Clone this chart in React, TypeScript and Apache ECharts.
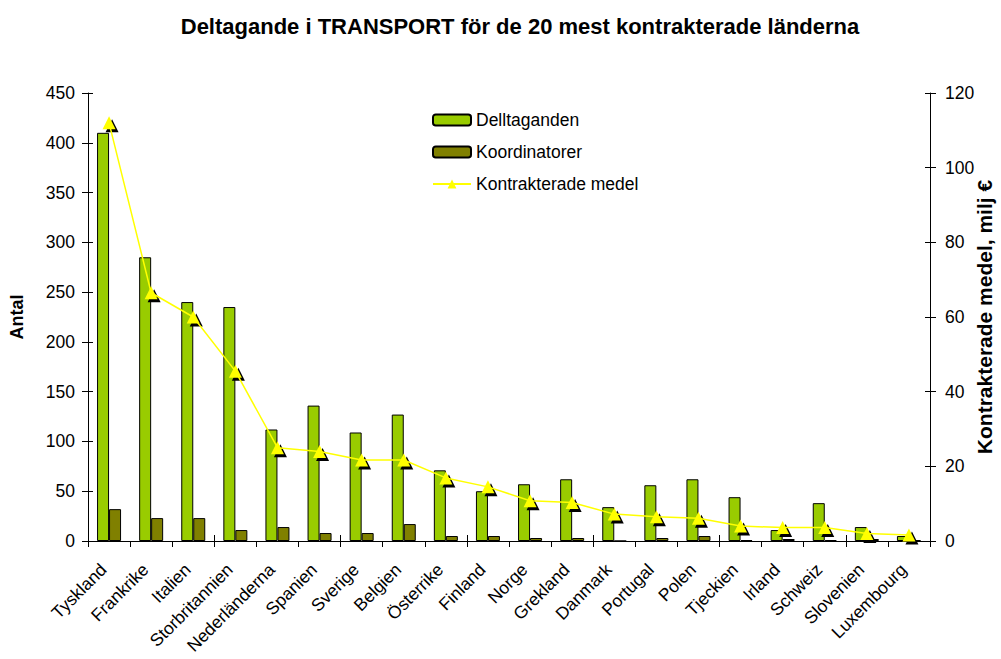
import React, { useEffect, useRef } from "react";
import * as echarts from "echarts";

const countries = ["Tyskland", "Frankrike", "Italien", "Storbritannien", "Nederländerna", "Spanien", "Sverige", "Belgien", "Österrike", "Finland", "Norge", "Grekland", "Danmark", "Portugal", "Polen", "Tjeckien", "Irland", "Schweiz", "Slovenien", "Luxembourg"];
const deltaganden = [410, 285, 240, 235, 112, 136, 109, 127, 71, 50, 57, 62, 34, 56, 62, 44, 11, 38, 14, 5];
const koordinatorer = [32, 23, 23, 11, 14, 8, 8, 17, 5, 5, 3, 3, 0, 3, 5, 1, 2, 1, 2, 1];
const medel = [112, 66.5, 60, 45.5, 25, 24, 21.7, 21.7, 16.9, 14.5, 10.8, 10.3, 7.2, 6.5, 6.1, 4, 3.6, 3.6, 2, 1.6];

const FONT = "'Liberation Sans', Arial, sans-serif";
const TICK_FS = 17.5;

export default function App() {
  const ref = useRef<HTMLDivElement>(null);
  useEffect(() => {
    if (!ref.current) return;
    const chart = echarts.init(ref.current, null, { renderer: "svg" });
    const innerTick = { show: true, inside: true, length: 5, lineStyle: { color: "#000" } };
    chart.setOption({
      animation: false,
      backgroundColor: "#ffffff",
      textStyle: { fontFamily: FONT, color: "#000" },
      title: {
        text: "Deltagande i TRANSPORT för de 20 mest kontrakterade länderna",
        left: 515,
        top: 10,
        textAlign: "center",
        textStyle: { fontFamily: FONT, fontSize: 22, fontWeight: "bold", color: "#000" },
      },
      legend: {
        orient: "vertical",
        left: 432,
        top: 111,
        padding: 0,
        itemWidth: 38,
        itemHeight: 11,
        itemGap: 14,
        data: ["Delltaganden", "Koordinatorer", "Kontrakterade medel"],
        textStyle: { fontFamily: FONT, fontSize: TICK_FS, color: "#000" },
      },
      grid: { left: 88, right: 71, top: 93, bottom: 118, containLabel: false, outerBoundsMode: "none" },
      xAxis: [
        {
          type: "category",
          data: countries,
          axisLine: { lineStyle: { color: "#000", width: 1 } },
          axisTick: { show: true, length: 6, lineStyle: { color: "#000" } },
          axisLabel: { rotate: 45, fontFamily: FONT, fontSize: TICK_FS, color: "#000", margin: 20, padding: [0, 8, 0, 0], interval: 0 },
        },
        {
          type: "category",
          data: countries,
          position: "bottom",
          axisLine: { show: false },
          axisTick: { ...innerTick, length: 6 },
          axisLabel: { show: false },
        },
      ],
      yAxis: [
        {
          type: "value",
          min: 0,
          max: 450,
          interval: 50,
          name: "Antal",
          nameLocation: "middle",
          nameGap: 62,
          nameMoveOverlap: false,
          nameTextStyle: { fontFamily: FONT, fontSize: 18, fontWeight: "bold", color: "#000" },
          axisLine: { show: true, lineStyle: { color: "#000" } },
          axisTick: { show: true, length: 6, lineStyle: { color: "#000" } },
          axisLabel: { fontFamily: FONT, fontSize: TICK_FS, color: "#000", margin: 13 },
          splitLine: { show: false },
        },
        {
          type: "value",
          min: 0,
          max: 120,
          interval: 20,
          name: "Kontrakterade medel, milj €",
          nameLocation: "middle",
          nameGap: 44,
          nameMoveOverlap: false,
          nameRotate: 90,
          nameTextStyle: { fontFamily: FONT, fontSize: 21, fontWeight: "bold", color: "#000" },
          axisLine: { show: true, lineStyle: { color: "#000" } },
          axisTick: { show: true, length: 6, lineStyle: { color: "#000" } },
          axisLabel: { fontFamily: FONT, fontSize: TICK_FS, color: "#000", margin: 15 },
          splitLine: { show: false },
        },
        {
          type: "value",
          min: 0,
          max: 450,
          interval: 50,
          position: "left",
          axisLine: { show: false },
          axisTick: innerTick,
          axisLabel: { show: false },
          splitLine: { show: false },
        },
        {
          type: "value",
          min: 0,
          max: 120,
          interval: 20,
          position: "right",
          axisLine: { show: false },
          axisTick: innerTick,
          axisLabel: { show: false },
          splitLine: { show: false },
        },
      ],
      series: [
        {
          name: "Delltaganden",
          type: "bar",
          data: deltaganden,
          barWidth: 12,
          barGap: "0%",
          itemStyle: { color: "#99CC00", borderColor: "#000", borderWidth: 1 },
        },
        {
          name: "Koordinatorer",
          type: "bar",
          data: koordinatorer,
          barWidth: 12,
          barGap: "0%",
          itemStyle: { color: "#808000", borderColor: "#000", borderWidth: 1 },
        },
        {
          name: "shadow",
          type: "line",
          yAxisIndex: 1,
          data: medel,
          symbol: "triangle",
          symbolSize: 13,
          symbolOffset: [3, 3],
          showSymbol: true,
          lineStyle: { opacity: 0 },
          itemStyle: { color: "#000", borderWidth: 0 },
          silent: true,
          z: 3,
        },
        {
          name: "Kontrakterade medel",
          type: "line",
          yAxisIndex: 1,
          data: medel,
          symbol: "triangle",
          symbolSize: 13,
          showSymbol: true,
          lineStyle: { color: "#FFFF00", width: 1.5 },
          itemStyle: { color: "#FFFF00", borderWidth: 0 },
          z: 4,
        },
      ],
    });
    return () => chart.dispose();
  }, []);
  return <div ref={ref} style={{ width: 1001, height: 659, position: "absolute", left: 0, top: 0 }} />;
}
